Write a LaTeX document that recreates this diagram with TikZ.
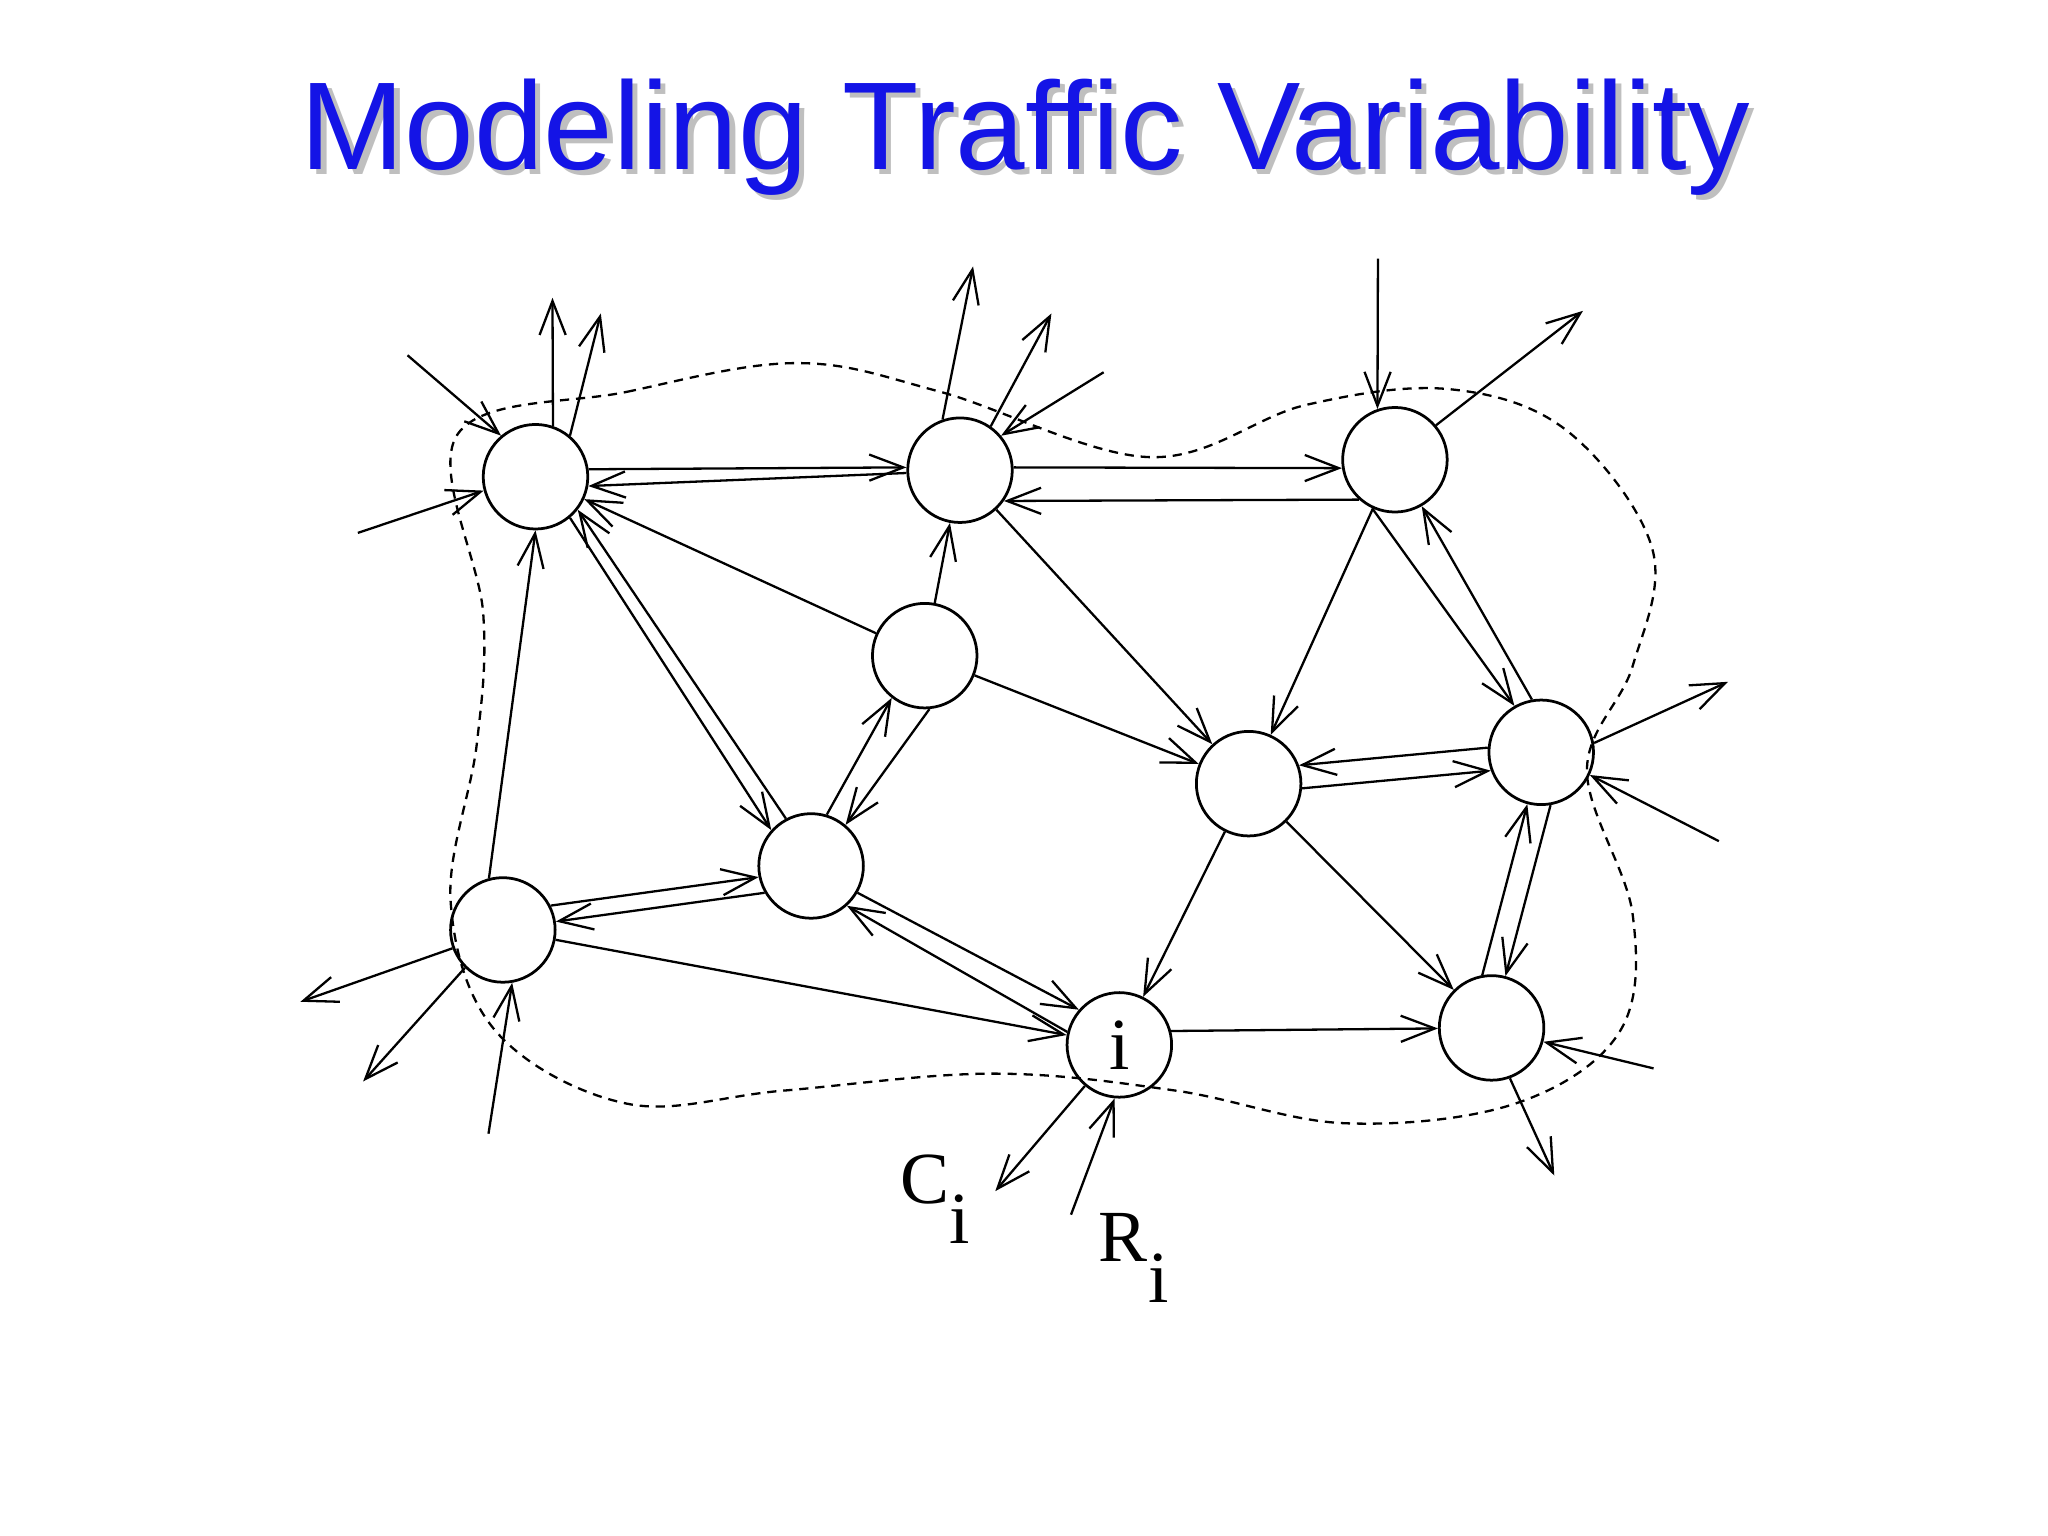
\documentclass[tikz,border=0pt]{standalone}
\usepackage{fontspec}
\setmainfont{Liberation Serif}
\newfontfamily\titlefont{Liberation Sans}
\usetikzlibrary{arrows.meta}
\begin{document}
\begin{tikzpicture}[x=0.01cm,y=-0.01cm,
  nd/.style={circle,draw,line width=0.6pt,minimum size=0.8cm,inner sep=0pt,font=\fontsize{16}{16}\selectfont},
  ar/.style={line width=0.5pt,-{Straight Barb[length=2.6mm,width=2mm]}},
  bd/.style={dashed,line width=0.5pt,dash pattern=on 2pt off 1.5pt}]
\useasboundingbox (0,0) rectangle (1568,1176);
\node[text=gray!50,font=\titlefont\fontsize{27.2}{27.2}\selectfont] at (789,109) {Modeling Traffic Variability};
\node[text={rgb,255:red,20;green,20;blue,230},font=\titlefont\fontsize{27.2}{27.2}\selectfont] (title) at (785,105) {Modeling Traffic Variability};
\node[nd] (A) at (410,365) {};
\node[nd] (B) at (735,360) {};
\node[nd] (C) at (1068,352) {};
\node[nd] (D) at (708,502) {};
\node[nd] (E) at (956,600) {};
\node[nd] (F) at (1180,576) {};
\node[nd] (G) at (621,663) {};
\node[nd] (H) at (385,712) {};
\node[nd] (I) at (857,800) {i};
\node[nd] (J) at (1142,787) {};
\draw[bd] plot[smooth cycle,tension=0.6] coordinates {(350,333) (480,300) (610,278) (720,300) (880,350) (1000,310) (1110,298) (1200,330) (1265,420) (1250,510) (1215,590) (1250,700) (1240,790) (1160,845) (1030,860) (900,835) (760,822) (600,835) (480,845) (380,790) (345,690) (365,570) (370,470)};
% internal edges
\draw[ar] (A.8) -- (B.177);
\draw[ar] (B.183) -- (A.350);
\draw[ar] (B.3) -- (C.189);
\draw[ar] (C.228) -- (B.325);
\draw[ar] (D) -- (A);
\draw[ar] (D) -- (B);
\draw[ar] (B) -- (E);
\draw[ar] (C) -- (E);
\draw[ar] (C.245) -- (F.120);
\draw[ar] (F.100) -- (C.300);
\draw[ar] (D) -- (E);
\draw[ar] (F.175) -- (E.20);
\draw[ar] (E.-5) -- (F.200);
\draw[ar] (A.310) -- (G.138);
\draw[ar] (G.118) -- (A.322);
\draw[ar] (G.73) -- (D.232);
\draw[ar] (D.275) -- (G.50);
\draw[ar] (H.105) -- (A.-90);
\draw[ar] (H.27) -- (G.192);
\draw[ar] (G.210) -- (H.9);
\draw[ar] (G.330) -- (I.139);
\draw[ar] (I.166) -- (G.312);
\draw[ar] (H) -- (I);
\draw[ar] (E) -- (I);
\draw[ar] (I.15) -- (J);
\draw[ar] (E) -- (J);
\draw[ar] (F.280) -- (J.75);
\draw[ar] (J.100) -- (F.255);
% external
\coordinate (a1) at (312,272); \coordinate (a2) at (423,228);
\coordinate (a3) at (460,240); \coordinate (a4) at (274,408);
\coordinate (b1) at (745,204); \coordinate (b2) at (805,240); \coordinate (b3) at (845,285);
\coordinate (c1) at (1055,198); \coordinate (c2) at (1212,238);
\coordinate (f1) at (1323,522); \coordinate (f2) at (1316,644);
\coordinate (j1) at (1266,818); \coordinate (j2) at (1190,900);
\coordinate (h1) at (230,767); \coordinate (h2) at (278,828); \coordinate (h3) at (374,868);
\coordinate (i1) at (762,912); \coordinate (i2) at (820,930);
\draw[ar] (a1) -- (A.130);
\draw[ar] (A.71) -- (a2);
\draw[ar] (A.50) -- (a3);
\draw[ar] (a4) -- (A.195);
\draw[ar] (B.109) -- (b1);
\draw[ar] (B.55) -- (b2);
\draw[ar] (b3) -- (B.40);
\draw[ar] (c1) -- (C.109);
\draw[ar] (C.40) -- (c2);
\draw[ar] (F.10) -- (f1);
\draw[ar] (f2) -- (F.-25);
\draw[ar] (j1) -- (J.-15);
\draw[ar] (J.-70) -- (j2);
\draw[ar] (H.200) -- (h1);
\draw[ar] (H.225) -- (h2);
\draw[ar] (h3) -- (H.-80);
\draw[ar] (I.230) -- (i1);
\draw[ar] (i2) -- (I.-95);
\node[font=\fontsize{16}{16}\selectfont] (ci) at (716,918) {C\raisebox{-1.2ex}{i}};
\node[font=\fontsize{16}{16}\selectfont] (ri) at (868,963) {R\raisebox{-1.2ex}{i}};
\end{tikzpicture}
\end{document}
